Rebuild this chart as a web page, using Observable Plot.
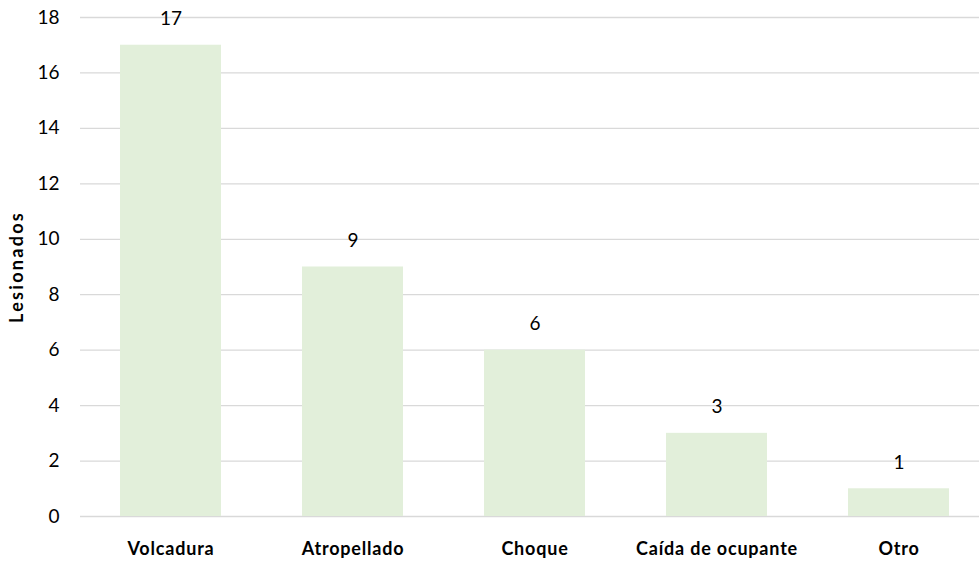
<!DOCTYPE html>
<html>
<head>
<meta charset="utf-8">
<script src="https://cdn.jsdelivr.net/npm/d3@7"></script>
<script src="https://cdn.jsdelivr.net/npm/@observablehq/plot@0.6"></script>
<style>
  html, body { margin: 0; padding: 0; background: #fff; }
  #chart svg { font-family: Lato, "Open Sans", sans-serif; }
</style>
</head>
<body>
<div id="chart"></div>
<script>
const categories = ["Volcadura", "Atropellado", "Choque", "Caída de ocupante", "Otro"];
const values = [17, 9, 6, 3, 1];
const yTicks = [0, 2, 4, 6, 8, 10, 12, 14, 16, 18];
const yLabel = "Lesionados";

const data = categories.map((c, i) => ({category: c, value: values[i]}));

const chart = Plot.plot({
  width: 979,
  height: 564,
  marginLeft: 80,
  marginRight: 0,
  marginTop: 17,
  marginBottom: 48,
  style: {fontFamily: "Lato, 'Open Sans', sans-serif", background: "#fff"},
  x: {domain: categories, range: [80, 990], paddingInner: 0.445, paddingOuter: 0.2225},
  y: {domain: [0, 18]},
  marks: [
    Plot.ruleY(yTicks, {stroke: "#d9d9d9", strokeWidth: 1.3}),
    Plot.barY(data, {x: "category", y: "value", fill: "#e2efda"}),
    Plot.text(data, {x: "category", y: "value", text: d => String(d.value), dy: -26, fontSize: 19, fill: "#000"}),
    Plot.axisY({ticks: yTicks, tickSize: 0, tickPadding: 21, fontSize: 19, label: yLabel, labelAnchor: "center", labelArrow: "none", labelOffset: 70}),
    Plot.axisX({tickSize: 0, tickPadding: 26, fontSize: 18, fontWeight: "bold", label: null})
  ]
});

d3.select(chart).selectAll("[aria-label='y-axis tick label'] text").attr("fill", "#000");
d3.select(chart).selectAll("[aria-label='y-axis label'] text, [aria-label='y-axis label']")
  .attr("font-weight", "bold").attr("font-size", 18).attr("fill", "#000").style("letter-spacing", "2.3px");
d3.select(chart).selectAll("[aria-label='x-axis tick label'] text").attr("fill", "#000").style("letter-spacing", "0.8px");
document.getElementById("chart").appendChild(chart);
</script>
</body>
</html>
